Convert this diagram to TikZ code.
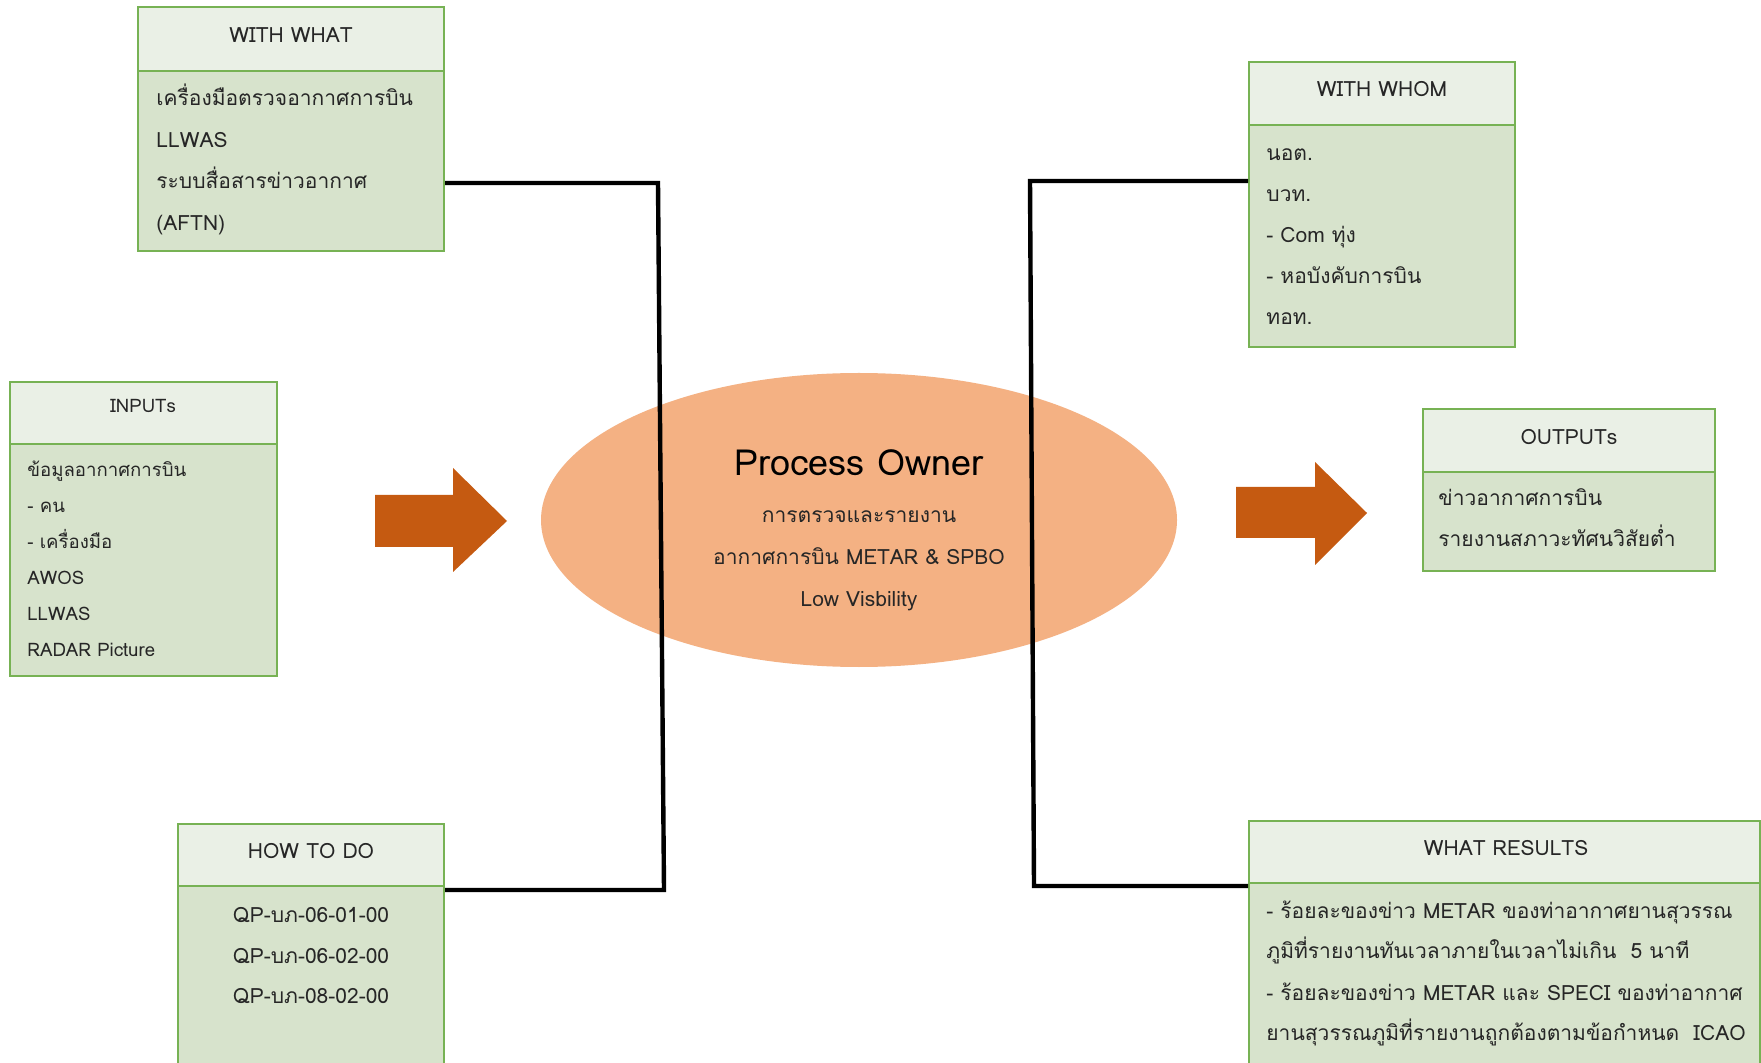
\documentclass[tikz,border=0pt]{standalone}
\usepackage{fontspec}
\setmainfont[Script=Thai]{Loma}
\usetikzlibrary{fit,shapes.geometric}
\definecolor{gbord}{HTML}{77B254}
\definecolor{hfill}{HTML}{EAF0E6}
\definecolor{bfill}{HTML}{D7E3CC}
\definecolor{ellfill}{HTML}{F4B183}
\definecolor{arrfill}{HTML}{C55A11}
\newcommand{\fbody}{\fontsize{10.5}{12}\selectfont}
\newcommand{\fsmall}{\fontsize{9.3}{11}\selectfont}
\tikzset{
  hdr/.style={draw=gbord, fill=hfill, line width=1pt, inner sep=0pt},
  bdy/.style={draw=gbord, fill=bfill, line width=1pt, inner sep=0pt},
  ltxt/.style={anchor=base west, inner sep=0pt, font=\fbody, text=black!85},
  ctxt/.style={anchor=base, inner sep=0pt, font=\fbody, text=black!85},
  conn/.style={line width=2.2pt, black, line join=miter},
  bigarrow/.style={fill=arrfill, draw=none}
}
\begin{document}
\begin{tikzpicture}[x=0.5pt, y=-0.5pt]
\useasboundingbox (0,0) rectangle (1761,1063);
\clip (0,0) rectangle (1761,1063);
\fill[white] (0,0) rectangle (1761,1063);

% central ellipse
\node[ellipse, fill=ellfill, draw=none, minimum width=318pt, minimum height=147pt, inner sep=0pt] (po) at (859,520) {};

% connector bend points
\coordinate (l1) at (658,183);
\coordinate (l2) at (664,890);
\coordinate (r1) at (1030,181);
\coordinate (r2) at (1034,886);

% WITH WHAT
\node[hdr, fit={(138,7) (444,71)}] (wwh) {};
\node[bdy, fit={(138,71) (444,251)}] (wwb) {};
% INPUTs
\node[hdr, fit={(10,382) (277,444)}] (inh) {};
\node[bdy, fit={(10,444) (277,676)}] (inb) {};
% HOW TO DO
\node[hdr, fit={(178,824) (444,886)}] (howh) {};
\node[bdy, fit={(178,886) (444,1075)}] (howb) {};
% WITH WHOM
\node[hdr, fit={(1249,62) (1515,125)}] (whh) {};
\node[bdy, fit={(1249,125) (1515,347)}] (whb) {};
% OUTPUTs
\node[hdr, fit={(1423,409) (1715,472)}] (outh) {};
\node[bdy, fit={(1423,472) (1715,571)}] (outb) {};
% WHAT RESULTS
\node[hdr, fit={(1249,821) (1760,883)}] (resh) {};
\node[bdy, fit={(1249,883) (1760,1075)}] (resb) {};

\draw[conn] (wwb.east |- l1) -- (l1) -- (l2) -- (howb.east |- l2);
\draw[conn] (whb.west |- r1) -- (r1) -- (r2) -- (resb.west |- r2);

% big arrows
\fill[bigarrow] (375,495) -- (453,495) -- (453,468) -- (507,521) -- (453,572) -- (453,547) -- (375,547) -- cycle;
\fill[bigarrow] (1236,487) -- (1315,487) -- (1315,462) -- (1367,513) -- (1315,565) -- (1315,538) -- (1236,538) -- cycle;

% texts: WITH WHAT
\node[ctxt] (wwt) at (291,43) {WITH WHAT};
\node[ltxt] (ww1) at (156,106) {เครื่องมือตรวจอากาศการบิน};
\node[ltxt] (ww2) at (156,147.5) {LLWAS};
\node[ltxt] (ww3) at (156,189) {ระบบสื่อสารข่าวอากาศ};
\node[ltxt] (ww4) at (156,230.5) {(AFTN)};

% INPUTs
\node[ctxt, font=\fsmall] (int) at (143,413) {INPUTs};
\node[ltxt, font=\fsmall] (in1) at (27,477) {ข้อมูลอากาศการบิน};
\node[ltxt, font=\fsmall] (in2) at (27,513) {- คน};
\node[ltxt, font=\fsmall] (in3) at (27,549) {- เครื่องมือ};
\node[ltxt, font=\fsmall] (in4) at (27,585) {AWOS};
\node[ltxt, font=\fsmall] (in5) at (27,620) {LLWAS};
\node[ltxt, font=\fsmall] (in6) at (27,656) {RADAR Picture};

% HOW TO DO
\node[ctxt] (howt) at (311,858) {HOW TO DO};
\node[ctxt] (how1) at (311,922) {QP-บภ-06-01-00};
\node[ctxt] (how2) at (311,963) {QP-บภ-06-02-00};
\node[ctxt] (how3) at (311,1003) {QP-บภ-08-02-00};

% WITH WHOM
\node[ctxt] (wht) at (1382,97) {WITH WHOM};
\node[ltxt] (wh1) at (1266,161) {นอต.};
\node[ltxt] (wh2) at (1266,202) {บวท.};
\node[ltxt] (wh3) at (1266,243) {- Com ทุ่ง};
\node[ltxt] (wh4) at (1266,284) {- หอบังคับการบิน};
\node[ltxt] (wh5) at (1266,325) {ทอท.};

% OUTPUTs
\node[ctxt] (outt) at (1569,445) {OUTPUTs};
\node[ltxt] (out1) at (1438,506) {ข่าวอากาศการบิน};
\node[ltxt] (out2) at (1438,547) {รายงานสภาวะทัศนวิสัยต่ำ};

% WHAT RESULTS
\node[ctxt] (rest) at (1506,855) {WHAT RESULTS};
\node[ltxt] (res1) at (1266,918) {- ร้อยละของข่าว METAR ของท่าอากาศยานสุวรรณ};
\node[ltxt] (res2) at (1266,958) {ภูมิที่รายงานทันเวลาภายในเวลาไม่เกิน\ \ 5 นาที};
\node[ltxt] (res3) at (1266,1000) {- ร้อยละของข่าว METAR และ SPECI ของท่าอากาศ};
\node[ltxt] (res4) at (1266,1040) {ยานสุวรรณภูมิที่รายงานถูกต้องตามข้อกำหนด\ \ ICAO};

% Process owner
\node[ctxt, font=\fontsize{18}{22}\selectfont, text=black] (pot) at (859,476) {Process Owner};
\node[ctxt] (po1) at (859,523) {การตรวจและรายงาน};
\node[ctxt] (po2) at (859,565) {อากาศการบิน METAR \& SPBO};
\node[ctxt] (po3) at (859,606) {Low Visbility};
\end{tikzpicture}
\end{document}
